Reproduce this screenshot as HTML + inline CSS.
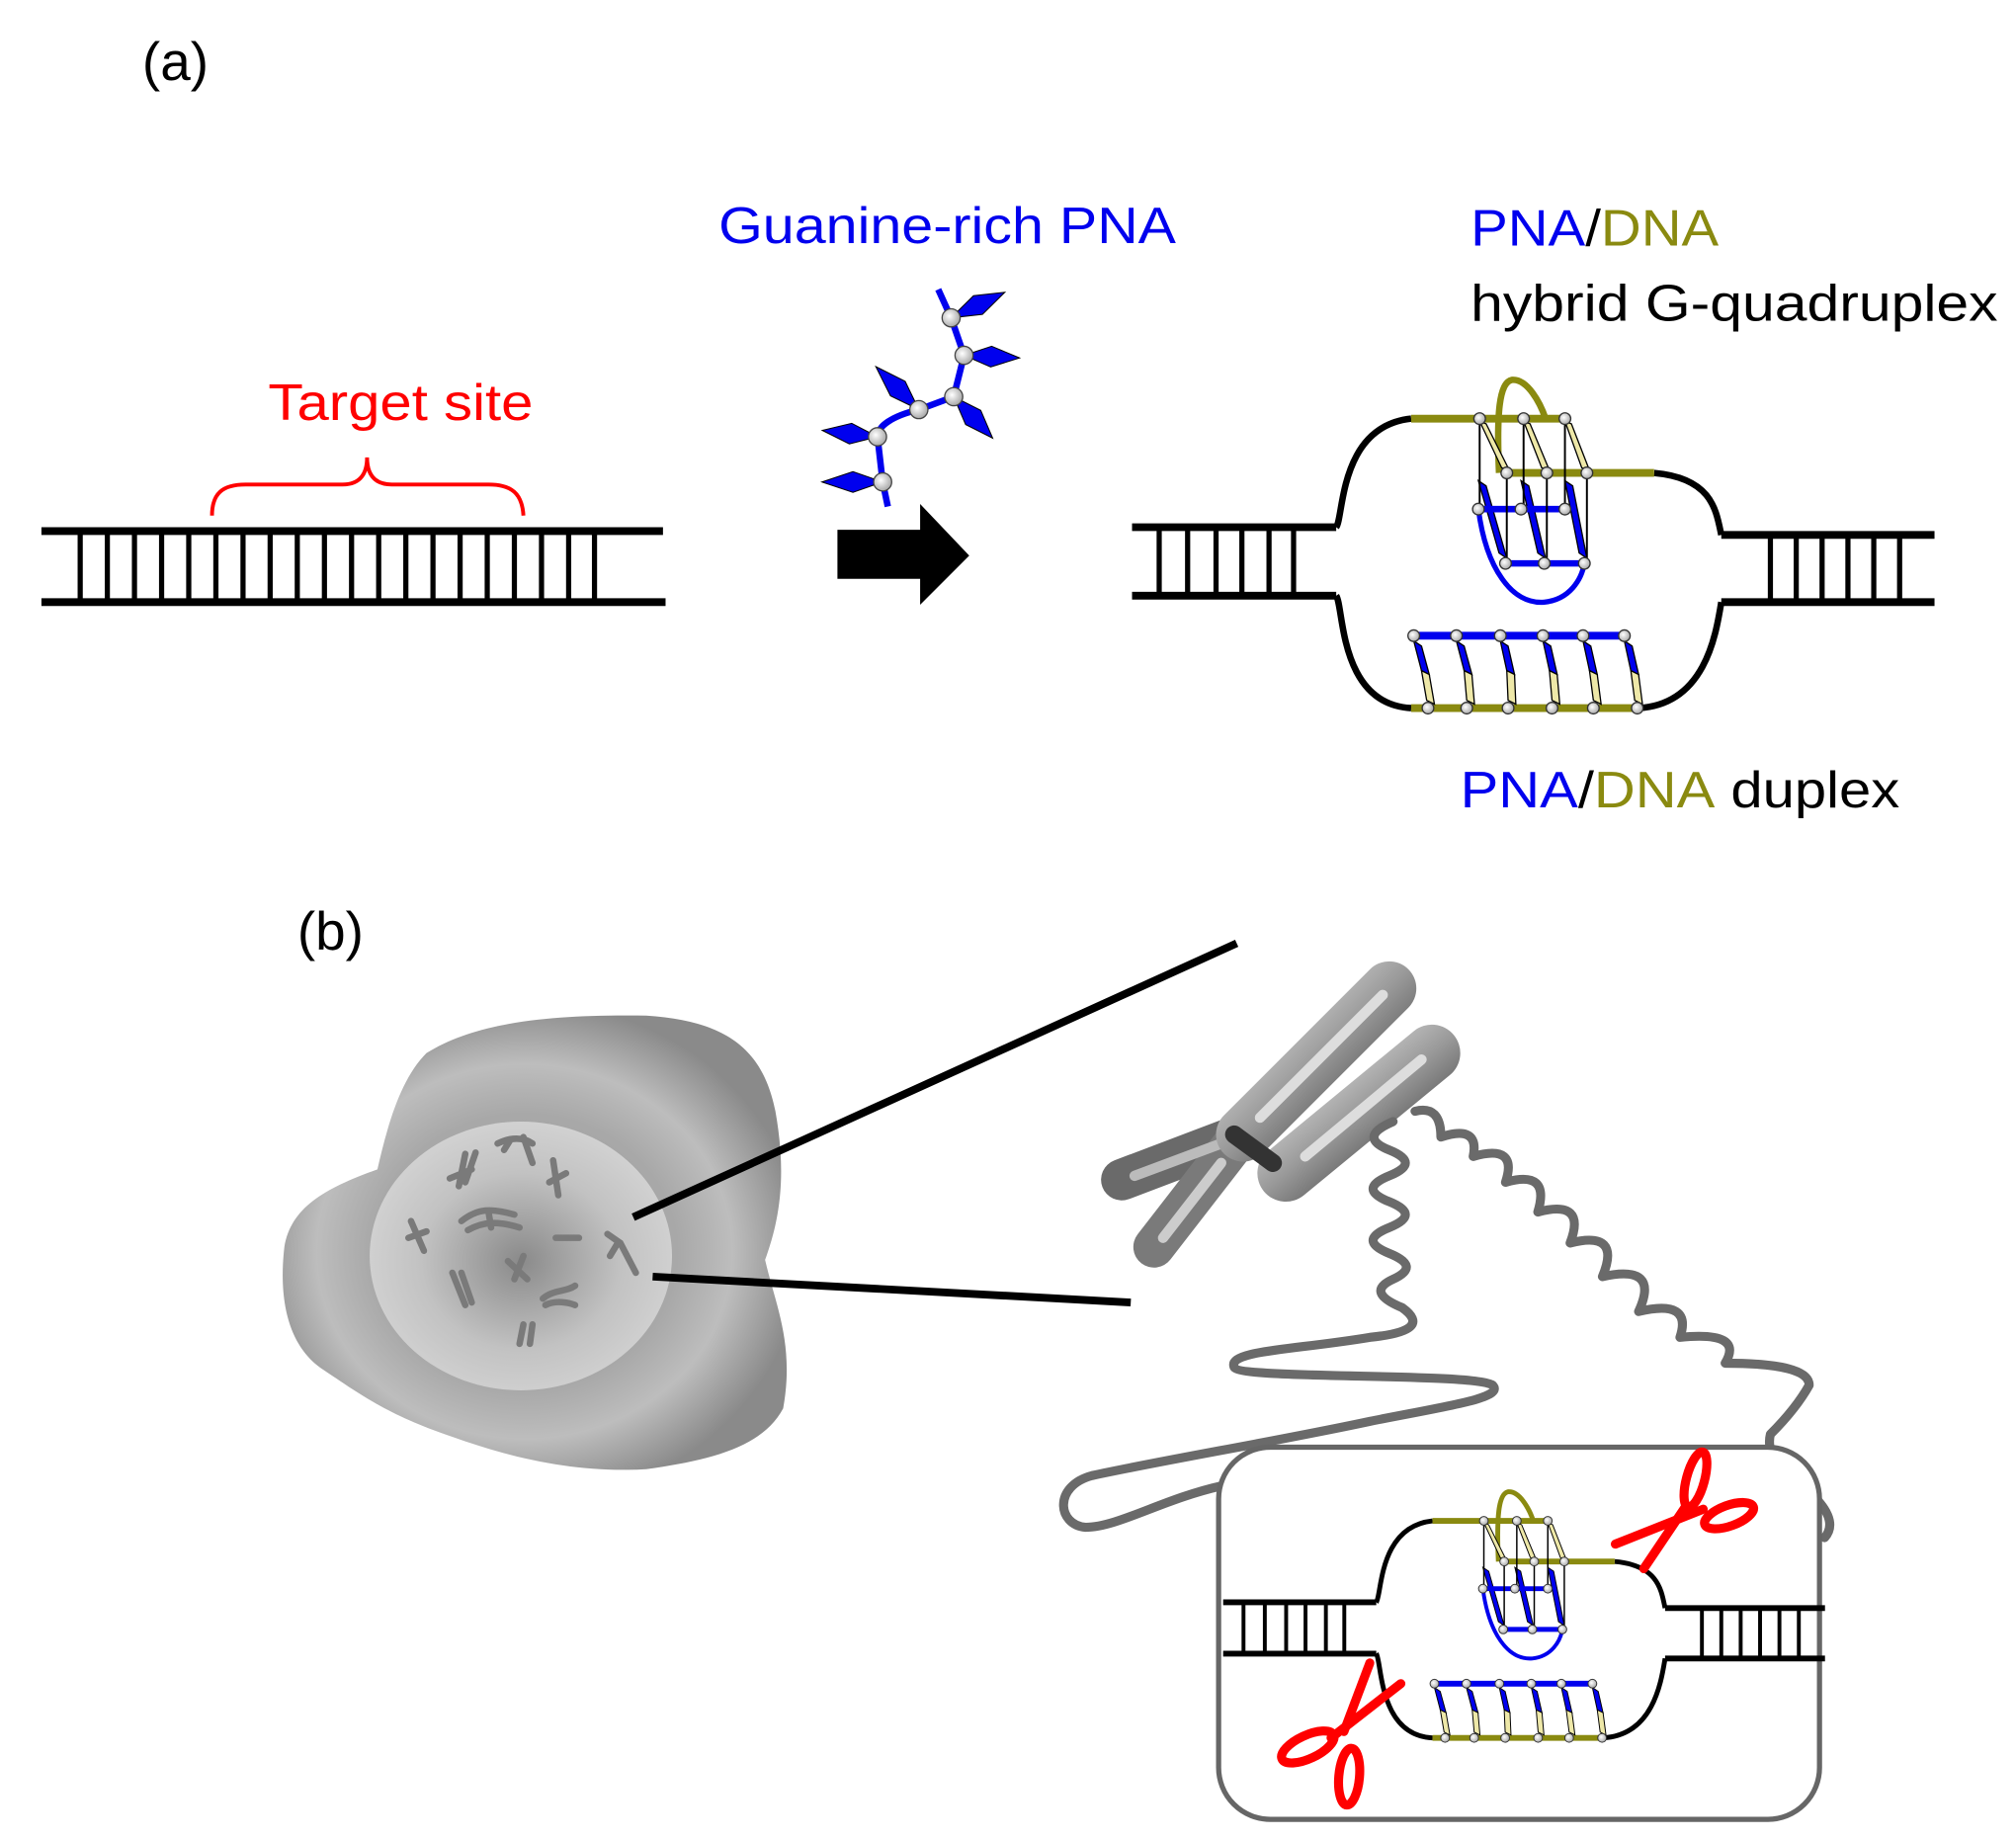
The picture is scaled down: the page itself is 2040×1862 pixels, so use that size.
<!DOCTYPE html>
<html><head><meta charset="utf-8"><style>
html,body{margin:0;padding:0;background:#fff;}
svg{display:block;}
text{font-family:"Liberation Sans",sans-serif;}
</style></head><body>
<svg width="2040" height="1862" viewBox="0 0 1560 1424" xmlns="http://www.w3.org/2000/svg">
<defs>
<radialGradient id="cellg" cx="0.48" cy="0.52" r="0.55">
<stop offset="0" stop-color="#9a9a9a"/><stop offset="0.55" stop-color="#a8a8a8"/><stop offset="0.75" stop-color="#bdbdbd"/><stop offset="1" stop-color="#8a8a8a"/>
</radialGradient>
<radialGradient id="nucg" cx="0.5" cy="0.52" r="0.55">
<stop offset="0" stop-color="#8a8a8a"/><stop offset="0.6" stop-color="#c2c2c2"/><stop offset="1" stop-color="#d4d4d4"/>
</radialGradient>
<linearGradient id="chg" x1="0" y1="0" x2="1" y2="1">
<stop offset="0" stop-color="#eee"/><stop offset="0.5" stop-color="#999"/><stop offset="1" stop-color="#333"/>
</linearGradient>
<radialGradient id="nodeg" cx="0.4" cy="0.4" r="0.6"><stop offset="0" stop-color="#fff"/><stop offset="1" stop-color="#aaa"/></radialGradient>
<g id="st">
 <path d="M876,408 H1034 M876,461 H1034" stroke="#000" stroke-width="6" fill="none"/>
 <path d="M897,408V461 M919,408V461 M941,408V461 M961,408V461 M982,408V461 M1001,408V461" stroke="#000" stroke-width="4"/>
 <path d="M1034,408 C1040,400 1036,330 1092,324 M1034,461 C1040,470 1036,545 1092,548 M1280,366 C1325,370 1328,395 1332,414 M1268,548 C1320,545 1328,490 1332,466" stroke="#000" stroke-width="5" fill="none"/>
 <path d="M1332,414 H1497 M1332,466 H1497" stroke="#000" stroke-width="6" fill="none"/>
 <path d="M1370,414V466 M1390,414V466 M1410,414V466 M1430,414V466 M1450,414V466 M1470,414V466" stroke="#000" stroke-width="4"/>
 <path d="M1092,324 H1211 M1166,366 H1280 M1092,548 H1268" stroke="#8a8a10" stroke-width="6" fill="none"/>
 <path d="M1160,366 C1158,320 1160,296 1170,294 C1182,293 1192,312 1196,324" stroke="#8a8a10" stroke-width="5" fill="none"/>
 <g stroke="#000" stroke-width="1">
  <polygon points="1145,326 1150,328 1168,364 1162,362" fill="#eee8a8"/>
  <polygon points="1179,326 1184,328 1199,364 1193,362" fill="#eee8a8"/>
  <polygon points="1211,326 1216,328 1230,364 1224,362" fill="#eee8a8"/>
  <polygon points="1144,372 1150,376 1166,432 1160,428" fill="#0000ee"/>
  <polygon points="1177,372 1183,376 1196,432 1190,428" fill="#0000ee"/>
  <polygon points="1211,372 1217,376 1228,432 1222,428" fill="#0000ee"/>
 </g>
 <path d="M1144,394 H1211 M1165,436 H1226" stroke="#0000ee" stroke-width="5"/>
 <path d="M1144,394 C1150,440 1170,468 1195,466 C1215,464 1224,448 1226,436" stroke="#0000ee" stroke-width="4" fill="none"/>
 <path d="M1145,324 V394 M1179,324 V394 M1211,324 V394 M1166,366 V436 M1197,366 V436 M1228,366 V436" stroke="#000" stroke-width="1.5"/>
 <g fill="url(#nodeg)" stroke="#333" stroke-width="1">
  <circle cx="1145" cy="324" r="4.5"/><circle cx="1179" cy="324" r="4.5"/><circle cx="1211" cy="324" r="4.5"/>
  <circle cx="1166" cy="366" r="4.5"/><circle cx="1197" cy="366" r="4.5"/><circle cx="1228" cy="366" r="4.5"/>
  <circle cx="1144" cy="394" r="4.5"/><circle cx="1177" cy="394" r="4.5"/><circle cx="1211" cy="394" r="4.5"/>
  <circle cx="1165" cy="436" r="4.5"/><circle cx="1195" cy="436" r="4.5"/><circle cx="1226" cy="436" r="4.5"/>
 </g>
 <path d="M1094,492 H1257" stroke="#0000ee" stroke-width="6"/>
 <g stroke="#000" stroke-width="1">
  <polygon points="1094,496 1100,500 1106,522 1100,519" fill="#0000ee"/><polygon points="1100,519 1106,522 1110,545 1104,542" fill="#eee8a8"/>
  <polygon points="1127,496 1133,500 1139,522 1133,519" fill="#0000ee"/><polygon points="1133,519 1139,522 1141,545 1135,542" fill="#eee8a8"/>
  <polygon points="1161,496 1167,500 1172,522 1166,519" fill="#0000ee"/><polygon points="1166,519 1172,522 1173,545 1167,542" fill="#eee8a8"/>
  <polygon points="1194,496 1200,500 1205,522 1199,519" fill="#0000ee"/><polygon points="1199,519 1205,522 1207,545 1201,542" fill="#eee8a8"/>
  <polygon points="1225,496 1231,500 1236,522 1230,519" fill="#0000ee"/><polygon points="1230,519 1236,522 1239,545 1233,542" fill="#eee8a8"/>
  <polygon points="1257,496 1263,500 1268,522 1262,519" fill="#0000ee"/><polygon points="1262,519 1268,522 1271,545 1265,542" fill="#eee8a8"/>
 </g>
 <g fill="url(#nodeg)" stroke="#333" stroke-width="1">
  <circle cx="1094" cy="492" r="4.5"/><circle cx="1127" cy="492" r="4.5"/><circle cx="1161" cy="492" r="4.5"/><circle cx="1194" cy="492" r="4.5"/><circle cx="1225" cy="492" r="4.5"/><circle cx="1257" cy="492" r="4.5"/>
  <circle cx="1105" cy="548" r="4.5"/><circle cx="1135" cy="548" r="4.5"/><circle cx="1167" cy="548" r="4.5"/><circle cx="1201" cy="548" r="4.5"/><circle cx="1233" cy="548" r="4.5"/><circle cx="1267" cy="548" r="4.5"/>
 </g>
</g>
</defs>

<text x="110" y="62" font-size="42" fill="#000">(a)</text>
<path d="M32,411 H513 M32,466 H515" stroke="#000" stroke-width="6"/>
<path d="M62,411V466 M83,411V466 M104,411V466 M125,411V466 M146,411V466 M167,411V466 M188,411V466 M209,411V466 M230,411V466 M251,411V466 M272,411V466 M293,411V466 M314,411V466 M335,411V466 M356,411V466 M377,411V466 M398,411V466 M419,411V466 M440,411V466 M460,411V466" stroke="#000" stroke-width="4"/>
<path d="M164,399 C164,382 172,375 190,375 H265 C280,375 284,365 284,354 C284,365 288,375 303,375 H378 C396,375 404,382 405,399" stroke="#f00" stroke-width="3" fill="none"/>
<text x="310" y="325" font-size="40" fill="#f00" text-anchor="middle" textLength="205" lengthAdjust="spacingAndGlyphs">Target site</text>
<text x="556" y="188" font-size="40" fill="#0000ee" textLength="354" lengthAdjust="spacingAndGlyphs">Guanine-rich PNA</text>
<path d="M726,224 L736,246 L746,275 L738,307 L711,317 C690,322 679,330 679,338 L683,373 L687,392" stroke="#0000ee" stroke-width="5" fill="none" stroke-linejoin="round"/>
<g fill="#0000ee" stroke="#000" stroke-width="0.8">
 <polygon points="0,0 23,-8 46,0 23,8" transform="translate(736,246) rotate(-25.5)"/>
 <polygon points="0,0 21,-8 43,0 21,8" transform="translate(746,275) rotate(2.7)"/>
 <polygon points="0,0 22,-8 44,0 22,8" transform="translate(738,307) rotate(46.8)"/>
 <polygon points="0,0 23,-8 47,0 23,8" transform="translate(711,317) rotate(-135)"/>
 <polygon points="0,0 21,-8 43,0 21,8" transform="translate(679,338) rotate(186.6)"/>
 <polygon points="0,0 23,-8 47,0 23,8" transform="translate(683,373) rotate(180)"/>
</g>
<g fill="url(#nodeg)" stroke="#444" stroke-width="1">
 <circle cx="736" cy="246" r="7"/><circle cx="746" cy="275" r="7"/><circle cx="738" cy="307" r="7"/><circle cx="711" cy="317" r="7"/><circle cx="679" cy="338" r="7"/><circle cx="683" cy="373" r="7"/>
</g>
<polygon points="648,410 712,410 712,390 750,430 712,468 712,448 648,448" fill="#000"/>
<use href="#st"/>
<text x="1138" y="190" font-size="40" textLength="192" lengthAdjust="spacingAndGlyphs"><tspan fill="#0000ee">PNA</tspan><tspan fill="#000">/</tspan><tspan fill="#8a8a10">DNA</tspan></text>
<text x="1138" y="248" font-size="40" fill="#000" textLength="408" lengthAdjust="spacingAndGlyphs">hybrid G-quadruplex</text>
<text x="1130" y="625" font-size="40" textLength="340" lengthAdjust="spacingAndGlyphs"><tspan fill="#0000ee">PNA</tspan><tspan fill="#000">/</tspan><tspan fill="#8a8a10">DNA</tspan><tspan fill="#000"> duplex</tspan></text>

<text x="230" y="735" font-size="42" fill="#000">(b)</text>
<path d="M330,815 C370,790 430,785 500,786 C560,790 590,810 600,860 C608,905 605,940 592,975 C600,1010 615,1040 606,1090 C590,1120 550,1130 500,1137 C450,1140 400,1130 350,1112 C300,1095 280,1080 250,1060 C220,1040 216,1000 220,965 C225,935 250,920 292,905 C300,870 310,835 330,815 Z" fill="url(#cellg)"/>
<ellipse cx="403" cy="972" rx="117" ry="104" fill="url(#nucg)"/>
<g stroke="#7a7a7a" stroke-width="5" stroke-linecap="round" fill="none">
 <path d="M385,885 C395,880 405,880 412,885 M405,880 L412,900 M395,882 L390,890"/>
 <path d="M360,893 L355,918 M368,892 L360,915 M348,912 L365,905"/>
 <path d="M428,898 L432,925 M425,915 L438,908"/>
 <path d="M357,945 C370,935 380,935 398,940 M362,952 C375,945 385,945 402,950 M378,938 L380,950"/>
 <path d="M318,945 L328,968 M316,958 L330,953"/>
 <path d="M430,958 L448,958"/>
 <path d="M470,955 L480,962 L492,985 M478,962 L472,972"/>
 <path d="M393,976 L408,990 M405,972 L398,990"/>
 <path d="M350,985 L360,1010 M357,985 L365,1008"/>
 <path d="M420,1005 C428,998 438,1000 445,995 M422,1010 C430,1006 440,1008 445,1010"/>
 <path d="M405,1025 L402,1040 M412,1025 L410,1040"/>
</g>
<path d="M490,942 L957,730 M505,988 L875,1008" stroke="#000" stroke-width="6"/>
<g stroke-linecap="round" fill="none">
 <path d="M955,880 L868,913" stroke="#6a6a6a" stroke-width="32"/>
 <path d="M955,885 L893,965" stroke="#7a7a7a" stroke-width="32"/>
 <path d="M945,885 L878,910" stroke="#bbb" stroke-width="8"/>
 <path d="M945,900 L900,958" stroke="#ccc" stroke-width="8"/>
 <path d="M962,878 L1075,765" stroke="url(#chg)" stroke-width="42"/>
 <path d="M995,908 L1108,815" stroke="url(#chg)" stroke-width="44"/>
 <path d="M975,865 L1070,770" stroke="#ddd" stroke-width="8"/>
 <path d="M1010,895 L1100,820" stroke="#ddd" stroke-width="8"/>
 <path d="M955,878 L985,900" stroke="#333" stroke-width="14"/>
</g>
<g stroke="#6a6a6a" stroke-width="7" fill="none" stroke-linejoin="round" stroke-linecap="round">
 <path d="M1078,868 Q1050,880 1075,890 T1075,910 T1075,930 T1075,950 T1075,970 T1078,990 T1085,1012 Q1110,1030 1060,1035 C1000,1045 950,1045 955,1058 C960,1068 1140,1062 1155,1072 C1165,1082 1120,1088 1060,1100 C990,1115 900,1130 845,1142 C815,1150 818,1180 840,1182 C865,1182 900,1160 945,1150"/>
 <path d="M1095,860 Q1115,855 1115,880 Q1145,870 1140,895 Q1175,885 1165,915 Q1200,905 1190,938 Q1228,928 1215,962 Q1255,952 1240,988 Q1285,978 1268,1015 Q1310,1005 1300,1035 Q1350,1030 1335,1055 Q1400,1055 1400,1072 Q1390,1090 1370,1110 Q1365,1130 1395,1150 Q1425,1175 1412,1190"/>
</g>
<rect x="943" y="1120" width="465" height="288" rx="40" fill="#fff" stroke="#666" stroke-width="4"/>
<g transform="translate(289.5,934) scale(0.75)"><use href="#st"/></g>
<g stroke="#f00" stroke-width="7" fill="none" stroke-linecap="round">
 <line x1="1318" y1="1168" x2="1250" y2="1195"/>
 <line x1="1305" y1="1165" x2="1272" y2="1214"/>
 <ellipse cx="1312" cy="1145" rx="7" ry="22" transform="rotate(15 1312 1145)"/>
 <ellipse cx="1338" cy="1173" rx="20" ry="8" transform="rotate(-20 1338 1173)"/>
 <line x1="1040" y1="1340" x2="1060" y2="1287"/>
 <line x1="1030" y1="1345" x2="1084" y2="1303"/>
 <ellipse cx="1012" cy="1352" rx="22" ry="9" transform="rotate(-25 1012 1352)"/>
 <ellipse cx="1044" cy="1375" rx="8" ry="22" transform="rotate(5 1044 1375)"/>
</g>
</svg>
</body></html>
